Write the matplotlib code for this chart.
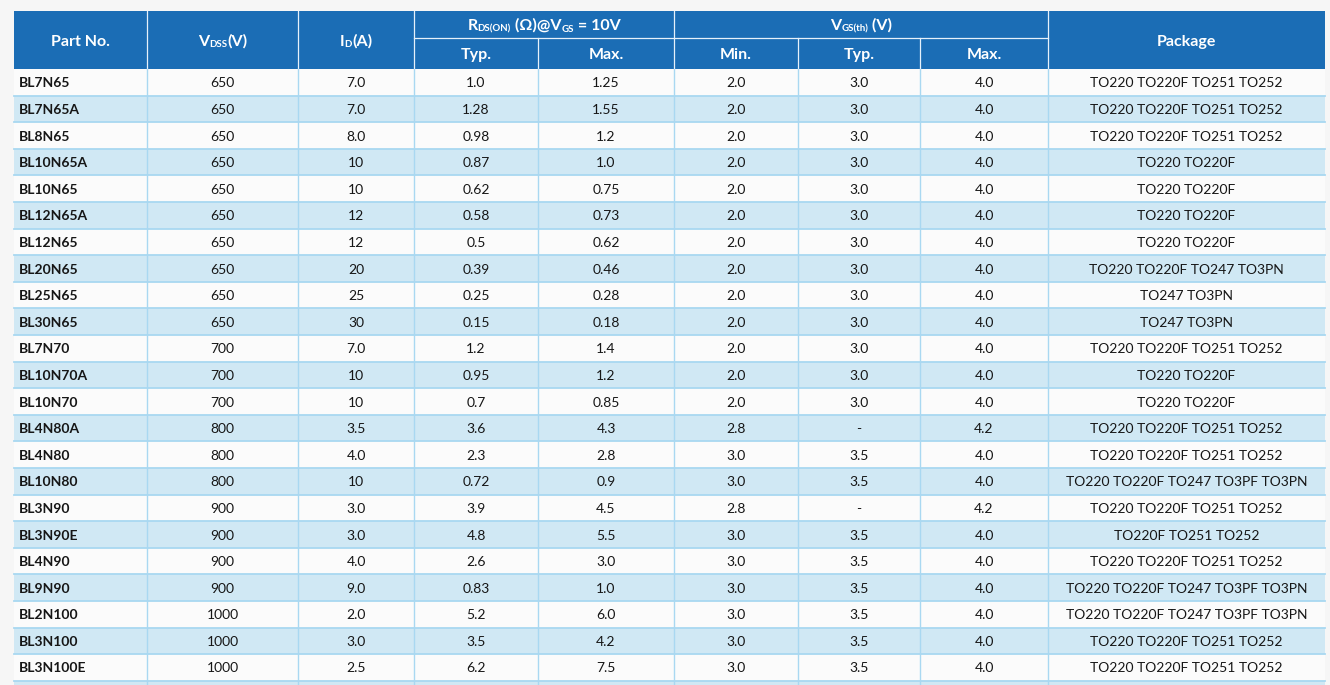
import matplotlib
matplotlib.use("Agg")
import matplotlib.pyplot as plt
from matplotlib.patches import Rectangle

# ---------------- data ----------------
parts = ["BL7N65", "BL7N65A", "BL8N65", "BL10N65A", "BL10N65", "BL12N65A", "BL12N65",
         "BL20N65", "BL25N65", "BL30N65", "BL7N70", "BL10N70A", "BL10N70", "BL4N80A",
         "BL4N80", "BL10N80", "BL3N90", "BL3N90E", "BL4N90", "BL9N90", "BL2N100",
         "BL3N100", "BL3N100E"]
vdss = [650] * 10 + [700] * 3 + [800] * 3 + [900] * 4 + [1000] * 3
id_a = [7.0, 7.0, 8.0, 10, 10, 12, 12, 20, 25, 30, 7.0, 10, 10, 3.5, 4.0, 10, 3.0, 3.0,
        4.0, 9.0, 2.0, 3.0, 2.5]
rds_typ = [1.0, 1.28, 0.98, 0.87, 0.62, 0.58, 0.5, 0.39, 0.25, 0.15, 1.2, 0.95, 0.7, 3.6,
           2.3, 0.72, 3.9, 4.8, 2.6, 0.83, 5.2, 3.5, 6.2]
rds_max = [1.25, 1.55, 1.2, 1.0, 0.75, 0.73, 0.62, 0.46, 0.28, 0.18, 1.4, 1.2, 0.85, 4.3,
           2.8, 0.9, 4.5, 5.5, 3.0, 1.0, 6.0, 4.2, 7.5]
vgs_min = [2.0] * 13 + [2.8, 3.0, 3.0, 2.8, 3.0, 3.0, 3.0, 3.0, 3.0, 3.0]
vgs_typ = [3.0] * 13 + [None, 3.5, 3.5, None, 3.5, 3.5, 3.5, 3.5, 3.5, 3.5]
vgs_max = [4.0] * 13 + [4.2, 4.0, 4.0, 4.2, 4.0, 4.0, 4.0, 4.0, 4.0, 4.0]
P4 = "TO220 TO220F TO251 TO252"
P2 = "TO220 TO220F"
P5 = "TO220 TO220F TO247 TO3PF TO3PN"
packages = [P4, P4, P4, P2, P2, P2, P2, "TO220 TO220F TO247 TO3PN", "TO247 TO3PN",
            "TO247 TO3PN", P4, P2, P2, P4, P4, P5, P4, "TO220F TO251 TO252", P4, P5, P5,
            P4, P4]

sub_headers = ["Typ.", "Max.", "Min.", "Typ.", "Max."]

# ---------------- style ----------------
FONT = "Lato"
HEAD_BLUE = "#1b6db5"
ROW_BLUE = "#d0e8f4"
ROW_WHITE = "#fbfbfb"
PAGE_BG = "#f6f6f6"
GRID = "#a9d8f1"
TXT = "#161616"

col_edges = [14, 147, 298, 414, 538, 674, 798, 920, 1048, 1325]
top = 11
h1_bot = 38
head_bot = 69
row_h = 26.6

W, H = 1330, 685
fig = plt.figure(figsize=(W / 100, H / 100), dpi=100, facecolor=PAGE_BG)
ax = fig.add_axes([0, 0, 1, 1])
ax.set_xlim(0, W)
ax.set_ylim(H, 0)
ax.axis("off")
renderer = fig.canvas.get_renderer()

def rect(x0, y0, x1, y1, color, z=1):
    ax.add_patch(Rectangle((x0, y0), x1 - x0, y1 - y0, facecolor=color,
                           edgecolor="none", zorder=z))

def rich(xc, baseline, segs, color="white", weight="bold"):
    """segs: list of (text, size, dy) drawn left to right centered on xc."""
    objs = []
    for t, s, dy in segs:
        o = ax.text(0, baseline + dy, t, fontsize=s, family=FONT, weight=weight,
                    color=color, ha="left", va="baseline", zorder=5)
        objs.append(o)
    widths = []
    inv = ax.transData.inverted()
    for o in objs:
        bb = o.get_window_extent(renderer)
        (xa, _), (xb, _) = inv.transform([(bb.x0, 0), (bb.x1, 0)])
        widths.append(xb - xa)
    total = sum(widths)
    x = xc - total / 2
    for o, w in zip(objs, widths):
        o.set_x(x)
        x += w

# ---------------- header ----------------
rect(col_edges[0], top, col_edges[-1], head_bot, HEAD_BLUE, 2)
cx = [(a + b) / 2 for a, b in zip(col_edges[:-1], col_edges[1:])]
hs, ss = 11.5, 7
mid_base = (top + head_bot) / 2 + 5.5
rich(cx[0], mid_base, [("Part No.", hs, 0)])
rich(cx[1], mid_base, [("V", hs, 0), ("DSS", ss, 1.5), ("(V)", hs, 0)])
rich(cx[2], mid_base, [("I", hs, 0), ("D", ss, 1.5), ("(A)", hs, 0)])
rich(cx[8], mid_base, [("Package", hs, 0)])
b1 = (top + h1_bot) / 2 + 5.5
rich((col_edges[3] + col_edges[5]) / 2, b1,
     [("R", hs, 0), ("DS(ON)", ss, 1.5), (" (\u03a9)@V", hs, 0), ("GS", ss, 1.5),
      (" = 10V", hs, 0)])
rich((col_edges[5] + col_edges[8]) / 2, b1,
     [("V", hs, 0), ("GS(th)", ss, 1.5), (" (V)", hs, 0)])
b2 = (h1_bot + head_bot) / 2 + 5.5
for i, t in enumerate(sub_headers):
    rich(cx[3 + i], b2, [(t, hs, 0)])

hl = "#e6f1fb"
for x in col_edges[1:-1]:
    y0 = h1_bot if x in (col_edges[4], col_edges[6], col_edges[7]) else top
    ax.plot([x, x], [y0, head_bot], color=hl, lw=0.9, zorder=3)
ax.plot([col_edges[3], col_edges[8]], [h1_bot, h1_bot], color=hl, lw=0.9, zorder=3)

# ---------------- body ----------------
def fmt(v):
    return "-" if v is None else str(v)

n = len(parts)
for r in range(n + 1):
    y0 = head_bot + r * row_h
    y1 = min(y0 + row_h, H)
    rect(col_edges[0], y0, col_edges[-1], y1, ROW_BLUE if r % 2 else ROW_WHITE, 1)
    if r >= n:
        continue
    yc = y0 + row_h / 2
    base = yc + 5
    ax.text(col_edges[0] + 5, base, parts[r], fontsize=10, family=FONT, weight="bold",
            color=TXT, ha="left", va="baseline", zorder=5)
    vals = [vdss[r], id_a[r], rds_typ[r], rds_max[r], vgs_min[r], vgs_typ[r],
            vgs_max[r], packages[r]]
    for c, v in enumerate(vals):
        ax.text(cx[c + 1], base, fmt(v), fontsize=10, family=FONT, color=TXT,
                ha="center", va="baseline", zorder=5)

for r in range(n + 1):
    y = head_bot + (r + 1) * row_h
    if y < H:
        ax.plot([col_edges[0], col_edges[-1]], [y, y], color=GRID, lw=1.3, zorder=3)
for x in col_edges[1:-1]:
    ax.plot([x, x], [head_bot, H], color=GRID, lw=1.0, zorder=3)

fig.savefig("out.png", dpi=100, facecolor=PAGE_BG)
